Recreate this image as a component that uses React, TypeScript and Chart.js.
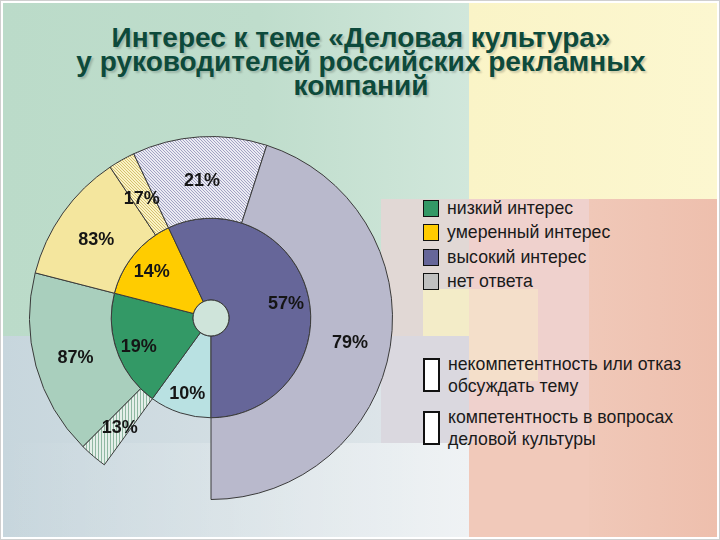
import React, { useEffect, useRef } from "react";
import { Chart, registerables } from "chart.js";

Chart.register(...registerables);

// Inner ring (clockwise from 6 o'clock)
const interestLabels = ["нет ответа", "низкий интерес", "умеренный интерес", "высокий интерес"];
const interestValues = [10, 19, 14, 57];
// Outer ring split of each interest group (percent of that group)
const solidPct = [0, 87, 83, 79];
const hatchedPct = [0, 13, 17, 21];
const hatchedFirst = [false, true, false, true];

const innerColors = ["#b9e1e2", "#339966", "#ffcc00", "#666699"];
const solidColors = ["rgba(0,0,0,0)", "#a9cfbd", "#f4e69e", "#b9b9cc"];
const hatchBg = ["#ffffff", "#e4efe9", "#fbf3c6", "#ebebf3"];
const hatchLine = ["#ffffff", "#8fb8a2", "#d3c170", "#a2a2c4"];

const legendTop = [
  { label: "низкий интерес", color: "#339966" },
  { label: "умеренный интерес", color: "#ffcc00" },
  { label: "высокий интерес", color: "#666699" },
  { label: "нет ответа", color: "#c0c0c0" },
];
const legendBottom = [
  ["некомпетентность или отказ", "обсуждать тему"],
  ["компетентность в вопросах", "деловой культуры"],
];

const titleLines = [
  "Интерес к теме «Деловая культура»",
  "у руководителей российских рекламных",
  "компаний",
];

function makeHatch(bg: string, line: string, vertical: boolean): CanvasPattern | string {
  const n = 3;
  const c = document.createElement("canvas");
  c.width = n;
  c.height = n;
  const x = c.getContext("2d");
  if (!x) return bg;
  x.fillStyle = bg;
  x.fillRect(0, 0, n, n);
  x.fillStyle = line;
  for (let i = 0; i < n; i++) {
    if (vertical) x.fillRect(0, i, 1, 1);
    else x.fillRect(i, i, 1, 1);
  }
  const p = x.createPattern(c, "repeat");
  return p || bg;
}

export default function App() {
  const ref = useRef<HTMLCanvasElement | null>(null);

  useEffect(() => {
    if (!ref.current) return;

    const outerValues: number[] = [];
    const outerColors: any[] = [];
    const outerBorders: number[] = [];
    const outerText: string[] = [];
    interestValues.forEach((v, i) => {
      if (i === 0) {
        outerValues.push(v);
        outerColors.push("rgba(0,0,0,0)");
        outerBorders.push(0);
        outerText.push("");
        return;
      }
      const solid = { v: (v * solidPct[i]) / 100, c: solidColors[i], t: solidPct[i] + "%" };
      const hatch = {
        v: (v * hatchedPct[i]) / 100,
        c: makeHatch(hatchBg[i], hatchLine[i], i === 1),
        t: hatchedPct[i] + "%",
      };
      const order = hatchedFirst[i] ? [hatch, solid] : [solid, hatch];
      order.forEach((s) => {
        outerValues.push(s.v);
        outerColors.push(s.c);
        outerBorders.push(1);
        outerText.push(s.t);
      });
    });
    const innerText = interestValues.map((v) => v + "%");

    const labelPlugin = {
      id: "sliceLabels",
      afterDatasetsDraw(chart: any) {
        const ctx = chart.ctx as CanvasRenderingContext2D;
        const innerMeta = chart.getDatasetMeta(1);
        const a0 = innerMeta.data[0];
        const p0 = a0.getProps(["x", "y", "innerRadius"], true);
        ctx.save();
        ctx.beginPath();
        ctx.arc(p0.x, p0.y, p0.innerRadius, 0, Math.PI * 2);
        ctx.fillStyle = "#cfe4da";
        ctx.fill();
        ctx.lineWidth = 1;
        ctx.strokeStyle = "#333";
        ctx.stroke();
        ctx.font = 'bold 18px "Liberation Sans", Arial, sans-serif';
        ctx.fillStyle = "#151515";
        ctx.textAlign = "center";
        ctx.textBaseline = "middle";
        const texts = [outerText, innerText];
        const pos = [0.5, 0.72];
        [0, 1].forEach((di) => {
          const meta = chart.getDatasetMeta(di);
          meta.data.forEach((arc: any, i: number) => {
            const t = texts[di][i];
            if (!t) return;
            const p = arc.getProps(["x", "y", "startAngle", "endAngle", "innerRadius", "outerRadius"], true);
            const mid = (p.startAngle + p.endAngle) / 2;
            const r = p.innerRadius + pos[di] * (p.outerRadius - p.innerRadius);
            ctx.fillText(t, p.x + Math.cos(mid) * r, p.y + Math.sin(mid) * r + 3);
          });
        });
        ctx.restore();
      },
    };

    const chart = new Chart(ref.current, {
      type: "doughnut",
      data: {
        labels: outerText,
        datasets: [
          {
            data: outerValues,
            backgroundColor: outerColors,
            borderColor: "#3a3a3a",
            borderWidth: outerBorders,
          },
          {
            data: interestValues,
            backgroundColor: innerColors,
            borderColor: "#3a3a3a",
            borderWidth: 1,
          },
        ],
      },
      options: {
        responsive: false,
        animation: false,
        events: [],
        rotation: 180,
        cutout: 18,
        layout: { padding: 0 },
        plugins: {
          legend: { display: false },
          tooltip: { enabled: false },
          title: { display: false },
        },
      },
      plugins: [labelPlugin],
    } as any);
    return () => chart.destroy();
  }, []);

  const abs = (l: number, t: number, w: number, h: number, bg: string, extra: any = {}) => (
    <div style={{ position: "absolute", left: l, top: t, width: w, height: h, background: bg, ...extra }} />
  );

  return (
    <div
      style={{
        position: "absolute",
        left: 0,
        top: 0,
        width: 720,
        height: 540,
        overflow: "hidden",
        background: "#ffffff",
        fontFamily: '"Liberation Sans", Arial, sans-serif',
        boxSizing: "border-box",
        border: "1px solid #cfcfcf",
      }}
    >
      {/* background panels */}
      {abs(2, 2, 466, 333, "linear-gradient(to right, #bbdbc9 0%, #bfddcc 55%, #d1e7db 100%)")}
      {abs(468, 2, 248, 196, "linear-gradient(to right, #faf4c7 0%, #fcf7d0 100%)")}
      {abs(588, 198, 128, 338, "linear-gradient(to right, #f0c8b8 0%, #eebfad 100%)")}
      {abs(468, 198, 120, 244, "#efd1cd")}
      {abs(468, 442, 120, 94, "#f1c9ba")}
      {abs(380, 198, 88, 137, "#e1d8d5")}
      {abs(2, 335, 466, 201, "linear-gradient(to right, #c7d6dd 0%, #d3dee3 50%, #e2e8ec 100%)")}
      {abs(380, 335, 88, 107, "#dad8df")}
      {abs(2, 442, 466, 94, "linear-gradient(to right, rgba(255,255,255,0) 0%, rgba(255,255,255,0.15) 40%, rgba(255,255,255,0.45) 100%)")}
      {abs(422, 288, 46, 47, "#f3ecc8")}
      {abs(468, 288, 69, 92, "rgba(246,232,200,0.6)")}

      {/* title */}
      <div
        style={{
          position: "absolute",
          left: 0,
          top: 25,
          width: 720,
          textAlign: "center",
          color: "#0d4a3b",
          fontWeight: "bold",
          fontSize: 28,
          lineHeight: "24px",
          textShadow: "2px 2px 2px rgba(0,0,0,0.18)",
        }}
      >
        {titleLines.map((t, i) => (
          <div key={i}>{t}</div>
        ))}
      </div>

      {/* chart */}
      <div style={{ position: "absolute", left: 28, top: 135, width: 364, height: 364 }}>
        <canvas ref={ref} width={364} height={364} />
      </div>

      {/* legend: interest */}
      {legendTop.map((it, i) => (
        <div key={i} style={{ position: "absolute", left: 422, top: 198 + i * 24.5, height: 18, display: "flex", alignItems: "center" }}>
          <div style={{ width: 14, height: 15, background: it.color, border: "1.5px solid #111" }} />
          <div style={{ marginLeft: 8, fontSize: 17.7, color: "#1a1a1a", whiteSpace: "nowrap" }}>{it.label}</div>
        </div>
      ))}

      {/* legend: competence */}
      {legendBottom.map((lines, i) => (
        <div key={i} style={{ position: "absolute", left: 422, top: 352 + i * 53, display: "flex", alignItems: "center" }}>
          <div style={{ width: 13, height: 30, background: "#ffffff", border: "2px solid #111" }} />
          <div style={{ marginLeft: 8, fontSize: 17.7, lineHeight: "22px", color: "#1a1a1a", whiteSpace: "nowrap" }}>
            {lines.map((l, j) => (
              <div key={j}>{l}</div>
            ))}
          </div>
        </div>
      ))}
    </div>
  );
}
